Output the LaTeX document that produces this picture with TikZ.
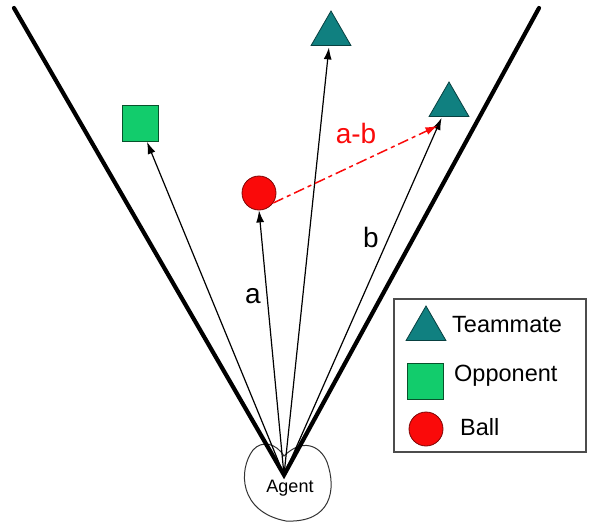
\documentclass[tikz,border=0pt]{standalone}
\usepackage{fontspec}
\setmainfont{Liberation Sans}
\usetikzlibrary{arrows.meta,shapes.geometric,calc}

\definecolor{teamteal}{RGB}{16,128,128}
\definecolor{oppgreen}{RGB}{18,204,108}
\definecolor{ballred}{RGB}{250,10,10}

\tikzset{
  teammate/.style={regular polygon, regular polygon sides=3, minimum size=46pt,
    inner sep=0pt, fill=teamteal, draw=teamteal!50!black, line width=0.8pt},
  opponent/.style={rectangle, minimum size=36pt, inner sep=0pt,
    fill=oppgreen, draw=oppgreen!40!black, line width=0.8pt},
  ballshape/.style={circle, minimum size=34pt, inner sep=0pt,
    fill=ballred, draw=ballred!50!black, line width=0.8pt},
  fov/.style={line width=4.2pt, line cap=round},
  vec/.style={line width=1.2pt, -{Latex[length=12pt,width=8pt]}},
  diffvec/.style={line width=1.5pt, draw=ballred, dash pattern=on 11pt off 4pt on 4pt off 4pt,
    -{Latex[length=12pt,width=8pt]}},
  veclabel/.style={font=\fontsize{28}{30}\selectfont, inner sep=0pt},
  legendtext/.style={font=\fontsize{23.5}{26}\selectfont, anchor=west, inner sep=0pt},
}

\begin{document}
\begin{tikzpicture}[x=1pt,y=-1pt]
  \useasboundingbox (0,0) rectangle (597,525);

  % agent outline
  \coordinate (apex) at (284,475);
  \draw[line width=1pt, draw=black!80, fill=white]
    (284,456) .. controls (276,443) and (262,440) .. (253,450)
    .. controls (238,470) and (239,512) .. (286,521)
    .. controls (331,523) and (337,490) .. (327,462)
    .. controls (320,445) and (302,438) .. (284,456) -- cycle;
  \node[font=\fontsize{18}{20}\selectfont, inner sep=0pt] (agent) at (290,488) {Agent};

  % field of view
  \coordinate (fovL) at (14,8);
  \coordinate (fovR) at (539,8);
  \draw[fov] (fovL) -- (apex) -- (fovR);

  % players and ball
  \node[teammate] (tmA) at (331,34) {};
  \node[teammate] (tmB) at (449,105) {};
  \node[opponent] (opp) at (140,123.5) {};
  \node[ballshape] (ball) at (259,193) {};

  % vectors from the agent
  \draw[vec] (apex) -- (opp.south east -| 147,0) coordinate (oppTip);
  \draw[vec] (apex) -- (ball.south) ;
  \draw[vec] (apex) -- ($(tmA.corner 2)!0.45!(tmA.corner 3)+(0,1.5)$);
  \draw[vec] (apex) -- ($(tmB.corner 2)!0.32!(tmB.corner 3)+(0,1)$);

  % difference vector
  \draw[diffvec] (ball.-35) -- ($(tmB.corner 2)!0.22!(tmB.corner 3)+(0,9)$);

  % vector labels
  \node[veclabel] (la) at (253,296) {a};
  \node[veclabel] (lb) at (371,237) {b};
  \node[veclabel, text=ballred] (lab) at (356,133) {a-b};

  % legend
  \node[draw=black!70, line width=1.3pt, minimum width=192pt, minimum height=153pt,
        inner sep=0pt] (legend) at (490,375.5) {};
  \node[teammate] (lgT) at (426,329) {};
  \node[legendtext] (lgTt) at (452,325) {Teammate};
  \node[opponent] (lgO) at (425.5,381) {};
  \node[legendtext] (lgOt) at (454,376) {Opponent};
  \node[ballshape] (lgB) at (426,429) {};
  \node[legendtext] (lgBt) at (460,427) {Ball};
\end{tikzpicture}
\end{document}
